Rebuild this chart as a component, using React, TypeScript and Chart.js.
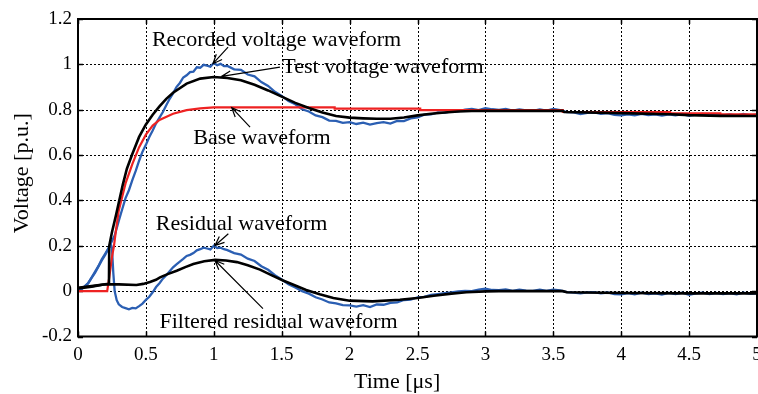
import React, { useEffect, useRef } from "react";
import { Chart, registerables } from "chart.js";

Chart.register(...registerables);

// ---------- data ----------
const xTickLabels = ["0", "0.5", "1", "1.5", "2", "2.5", "3", "3.5", "4", "4.5", "5"];
const yTickLabels = ["-0.2", "0", "0.2", "0.4", "0.6", "0.8", "1", "1.2"];
const xTitle = "Time [μs]";
const yTitle = "Voltage [p.u.]";

// Base waveform [time μs, voltage p.u.]
const baseWave: [number, number][] = [
  [0, 0], [0.215, 0], [0.23, 0.06], [0.25, 0.15], [0.265, 0.2], [0.28, 0.27], [0.3, 0.355],
  [0.35, 0.475], [0.4, 0.56], [0.45, 0.635], [0.5, 0.69], [0.55, 0.73], [0.6, 0.755],
  [0.7, 0.782], [0.8, 0.798], [0.9, 0.806], [1.0, 0.81], [1.89, 0.81], [1.89, 0.805],
  [2.52, 0.805], [2.52, 0.798], [3.57, 0.798], [3.57, 0.79], [4.36, 0.79], [4.36, 0.784],
  [4.73, 0.784], [4.73, 0.78], [5.0, 0.78],
];

// Test voltage waveform
const testWave: [number, number][] = [
  [0, 0.015], [0.1, 0.022], [0.2, 0.03], [0.228, 0.033], [0.23, 0.2], [0.25, 0.26],
  [0.28, 0.335], [0.3, 0.39], [0.33, 0.47], [0.36, 0.54], [0.4, 0.605], [0.45, 0.68],
  [0.5, 0.735], [0.55, 0.778], [0.6, 0.815], [0.65, 0.848], [0.7, 0.875], [0.8, 0.915],
  [0.9, 0.937], [1.0, 0.944], [1.1, 0.94], [1.2, 0.93], [1.3, 0.91], [1.4, 0.885], [1.5, 0.858],
  [1.6, 0.83], [1.7, 0.808], [1.8, 0.788], [1.9, 0.772], [2.0, 0.765], [2.1, 0.762],
  [2.2, 0.76], [2.3, 0.76], [2.4, 0.766], [2.5, 0.775], [2.6, 0.782], [2.7, 0.788],
  [2.8, 0.792], [2.9, 0.794], [3.0, 0.795], [3.57, 0.795], [3.58, 0.79], [4.0, 0.785],
  [4.36, 0.78], [4.5, 0.776], [4.73, 0.773], [5.0, 0.772],
];

// Recorded voltage waveform
const recordedWave: [number, number][] = [
  [0, 0.005], [0.025, 0.01], [0.05, 0.022], [0.075, 0.035], [0.1, 0.06], [0.125, 0.085],
  [0.15, 0.11], [0.175, 0.14], [0.2, 0.165], [0.225, 0.19], [0.245, 0.215], [0.27, 0.245],
  [0.3, 0.31], [0.325, 0.36], [0.35, 0.41], [0.375, 0.445], [0.4, 0.49], [0.425, 0.53],
  [0.45, 0.575], [0.475, 0.615], [0.5, 0.645], [0.525, 0.68], [0.55, 0.708], [0.575, 0.74],
  [0.6, 0.765], [0.625, 0.79], [0.65, 0.82], [0.675, 0.848], [0.7, 0.872], [0.725, 0.9],
  [0.75, 0.918], [0.775, 0.942], [0.8, 0.952], [0.825, 0.966], [0.85, 0.968], [0.875, 0.987],
  [0.9, 0.985], [0.925, 0.998], [0.95, 0.994], [0.975, 0.99], [1.0, 1.006], [1.025, 0.996],
  [1.05, 1.002], [1.075, 0.992], [1.1, 0.993], [1.15, 0.978], [1.2, 0.976], [1.25, 0.955],
  [1.3, 0.947], [1.35, 0.922], [1.4, 0.905], [1.45, 0.879], [1.5, 0.861], [1.55, 0.838],
  [1.6, 0.824], [1.65, 0.802], [1.7, 0.792], [1.75, 0.775], [1.8, 0.767], [1.85, 0.752],
  [1.9, 0.751], [1.95, 0.742], [2.0, 0.745], [2.05, 0.737], [2.1, 0.743], [2.15, 0.734],
  [2.2, 0.741], [2.25, 0.745], [2.3, 0.739], [2.35, 0.751], [2.4, 0.75], [2.45, 0.762],
  [2.5, 0.766], [2.55, 0.778], [2.6, 0.779], [2.65, 0.788], [2.7, 0.786], [2.75, 0.794],
  [2.8, 0.793], [2.85, 0.8], [2.9, 0.803], [2.95, 0.798], [3.0, 0.807], [3.05, 0.802],
  [3.1, 0.799], [3.15, 0.804], [3.2, 0.796], [3.25, 0.801], [3.3, 0.797], [3.35, 0.795],
  [3.4, 0.801], [3.45, 0.796], [3.5, 0.803], [3.55, 0.798], [3.6, 0.789], [3.65, 0.788],
  [3.7, 0.781], [3.75, 0.786], [3.8, 0.788], [3.85, 0.782], [3.9, 0.785], [3.95, 0.777],
  [4.0, 0.775], [4.05, 0.78], [4.1, 0.775], [4.15, 0.782], [4.2, 0.776], [4.25, 0.779],
  [4.3, 0.774], [4.35, 0.78], [4.4, 0.775], [4.45, 0.781], [4.5, 0.773], [4.55, 0.778],
  [4.6, 0.782], [4.65, 0.775], [4.7, 0.78], [4.75, 0.775], [4.8, 0.779], [4.85, 0.774],
  [4.9, 0.781], [4.95, 0.775], [5.0, 0.778],
];

// Residual waveform
const residualWave: [number, number][] = [
  [0, 0.0], [0.025, 0.008], [0.05, 0.02], [0.075, 0.035], [0.1, 0.058], [0.125, 0.08],
  [0.15, 0.108], [0.175, 0.135], [0.2, 0.16], [0.225, 0.188], [0.24, 0.21], [0.25, 0.19],
  [0.26, 0.08], [0.27, 0.0], [0.285, -0.04], [0.3, -0.058], [0.325, -0.07], [0.35, -0.075],
  [0.375, -0.08], [0.4, -0.074], [0.425, -0.076], [0.45, -0.066], [0.475, -0.055],
  [0.5, -0.038], [0.525, -0.025], [0.55, -0.005], [0.575, 0.018], [0.6, 0.035],
  [0.625, 0.055], [0.65, 0.07], [0.675, 0.088], [0.7, 0.105], [0.725, 0.118], [0.75, 0.13],
  [0.775, 0.142], [0.8, 0.155], [0.825, 0.16], [0.85, 0.168], [0.875, 0.18], [0.9, 0.185],
  [0.925, 0.192], [0.95, 0.188], [0.975, 0.184], [1.0, 0.2], [1.025, 0.19], [1.05, 0.192],
  [1.075, 0.185], [1.1, 0.181], [1.15, 0.168], [1.2, 0.161], [1.25, 0.143], [1.3, 0.133],
  [1.35, 0.11], [1.4, 0.094], [1.45, 0.07], [1.5, 0.051], [1.55, 0.03], [1.6, 0.016],
  [1.65, 0.0], [1.7, -0.011], [1.75, -0.027], [1.8, -0.037], [1.85, -0.05], [1.9, -0.054],
  [1.95, -0.062], [2.0, -0.063], [2.05, -0.068], [2.1, -0.062], [2.15, -0.07], [2.2, -0.059],
  [2.25, -0.06], [2.3, -0.052], [2.35, -0.05], [2.4, -0.039], [2.45, -0.037], [2.5, -0.027],
  [2.55, -0.025], [2.6, -0.017], [2.65, -0.013], [2.7, -0.009], [2.75, -0.006], [2.8, -0.001],
  [2.85, 0.001], [2.9, 0.0], [2.95, 0.007], [3.0, 0.011], [3.05, 0.005], [3.1, 0.004],
  [3.15, 0.008], [3.2, 0.001], [3.25, 0.006], [3.3, 0.002], [3.35, 0.001], [3.4, 0.006],
  [3.45, 0.001], [3.5, 0.007], [3.55, 0.003], [3.6, -0.004], [3.65, -0.007], [3.7, -0.01],
  [3.75, -0.005], [3.8, -0.004], [3.85, -0.01], [3.9, -0.006], [3.95, -0.013], [4.0, -0.014],
  [4.05, -0.009], [4.1, -0.014], [4.15, -0.007], [4.2, -0.013], [4.25, -0.01], [4.3, -0.015],
  [4.35, -0.008], [4.4, -0.013], [4.45, -0.007], [4.5, -0.016], [4.55, -0.01], [4.6, -0.007],
  [4.65, -0.013], [4.7, -0.008], [4.75, -0.013], [4.8, -0.009], [4.85, -0.014], [4.9, -0.007],
  [4.95, -0.012], [5.0, -0.01],
];

// Filtered residual waveform
const filteredWave: [number, number][] = [
  [0, 0.012], [0.1, 0.02], [0.2, 0.03], [0.3, 0.03], [0.43, 0.027], [0.48, 0.032],
  [0.53, 0.04], [0.574, 0.05], [0.604, 0.061], [0.66, 0.075], [0.727, 0.09], [0.79, 0.106],
  [0.849, 0.12], [0.93, 0.132], [1.01, 0.138], [1.09, 0.135], [1.17, 0.128], [1.25, 0.114],
  [1.34, 0.095], [1.42, 0.072], [1.51, 0.047], [1.6, 0.025], [1.68, 0.005], [1.78, -0.014],
  [1.88, -0.03], [2.0, -0.042], [2.17, -0.045], [2.37, -0.038], [2.5, -0.03], [2.62, -0.02],
  [2.75, -0.011], [2.86, -0.005], [3.0, -0.001], [3.1, 0.0], [3.57, 0.0], [3.6, -0.005],
  [4.0, -0.008], [4.5, -0.01], [5.0, -0.01],
];

// annotations: text centres and arrows in data units (μs, p.u.)
const annotationTexts = ["Recorded voltage waveform", "Test voltage waveform", "Base waveform", "Residual waveform", "Filtered residual waveform"];
const annotationAt: [number, number][] = [[1.462, 1.106], [2.246, 0.988], [1.355, 0.673], [1.205, 0.297], [1.477, -0.138]];
const arrowFrom: [number, number][] = [[1.105, 1.076], [1.487, 0.988], [1.267, 0.723], [1.107, 0.253], [1.362, -0.077]];
const arrowTo: [number, number][] = [[0.994, 1.003], [1.058, 0.947], [1.132, 0.809], [1.009, 0.201], [1.009, 0.135]];
// axis title centres (data units)
const xTitleAt = 2.35;
const yTitleAt = 0.52;

const FONT = "'Liberation Serif', 'Times New Roman', serif";

const toPts = (arr: [number, number][]) => arr.map(([x, y]) => ({ x, y }));

const framePlugin = {
  id: "frameGrid",
  beforeDatasetsDraw(chart: any) {
    const { ctx, chartArea: a, scales } = chart;
    const xs = scales.x, ys = scales.y;
    ctx.save();
    ctx.strokeStyle = "#000";
    ctx.lineWidth = 1;
    ctx.setLineDash([2, 2]);
    xs.ticks.forEach((t: any) => {
      const px = Math.round(xs.getPixelForValue(t.value)) + 0.5;
      if (px <= a.left + 1 || px >= a.right - 1) return;
      ctx.beginPath(); ctx.moveTo(px, a.top); ctx.lineTo(px, a.bottom); ctx.stroke();
    });
    ys.ticks.forEach((t: any) => {
      const py = Math.round(ys.getPixelForValue(t.value)) + 0.5;
      if (py <= a.top + 1 || py >= a.bottom - 1) return;
      ctx.beginPath(); ctx.moveTo(a.left, py); ctx.lineTo(a.right, py); ctx.stroke();
    });
    ctx.setLineDash([]);
    ctx.lineWidth = 1.5;
    const tl = 5;
    xs.ticks.forEach((t: any) => {
      const px = Math.round(xs.getPixelForValue(t.value)) + 0.5;
      ctx.beginPath(); ctx.moveTo(px, a.bottom); ctx.lineTo(px, a.bottom - tl);
      ctx.moveTo(px, a.top); ctx.lineTo(px, a.top + tl); ctx.stroke();
    });
    ys.ticks.forEach((t: any) => {
      const py = Math.round(ys.getPixelForValue(t.value)) + 0.5;
      ctx.beginPath(); ctx.moveTo(a.left, py); ctx.lineTo(a.left + tl, py);
      ctx.moveTo(a.right, py); ctx.lineTo(a.right - tl, py); ctx.stroke();
    });
    ctx.restore();
  },
  afterDatasetsDraw(chart: any) {
    const { ctx, chartArea: a, scales } = chart;
    const xs = scales.x, ys = scales.y;
    ctx.save();
    // frame
    ctx.strokeStyle = "#000";
    ctx.lineWidth = 2;
    ctx.strokeRect(a.left, a.top, a.right - a.left, a.bottom - a.top);
    // arrows
    ctx.lineWidth = 1.2;
    arrowFrom.forEach((f, i) => {
      const x1 = xs.getPixelForValue(f[0]), y1 = ys.getPixelForValue(f[1]);
      const x2 = xs.getPixelForValue(arrowTo[i][0]), y2 = ys.getPixelForValue(arrowTo[i][1]);
      const ang = Math.atan2(y2 - y1, x2 - x1);
      const hl = 10, ha = 0.4;
      ctx.beginPath();
      ctx.moveTo(x1, y1); ctx.lineTo(x2, y2);
      ctx.moveTo(x2 - hl * Math.cos(ang - ha), y2 - hl * Math.sin(ang - ha));
      ctx.lineTo(x2, y2);
      ctx.lineTo(x2 - hl * Math.cos(ang + ha), y2 - hl * Math.sin(ang + ha));
      ctx.stroke();
    });
    // texts
    ctx.fillStyle = "#000";
    ctx.font = `22px ${FONT}`;
    ctx.textAlign = "center";
    ctx.textBaseline = "middle";
    annotationTexts.forEach((txt, i) => {
      ctx.fillText(txt, xs.getPixelForValue(annotationAt[i][0]), ys.getPixelForValue(annotationAt[i][1]));
    });
    // axis titles
    ctx.fillText(xTitle, xs.getPixelForValue(xTitleAt), chart.height - 12);
    ctx.translate(a.left - 56, ys.getPixelForValue(yTitleAt));
    ctx.rotate(-Math.PI / 2);
    ctx.fillText(yTitle, 0, 0);
    ctx.restore();
  },
};

export default function App() {
  const ref = useRef<HTMLCanvasElement>(null);
  useEffect(() => {
    if (!ref.current) return;
    const chart = new Chart(ref.current, {
      type: "line",
      data: {
        datasets: [
          { label: "Test voltage waveform", data: toPts(testWave), borderColor: "#000000", borderWidth: 2.6 },
          { label: "Filtered residual waveform", data: toPts(filteredWave), borderColor: "#000000", borderWidth: 2.6 },
          { label: "Base waveform", data: toPts(baseWave), borderColor: "#ee2222", borderWidth: 2.2 },
          { label: "Recorded voltage waveform", data: toPts(recordedWave), borderColor: "#2b5fb3", borderWidth: 2.3 },
          { label: "Residual waveform", data: toPts(residualWave), borderColor: "#2b5fb3", borderWidth: 2.3 },
        ].map((d) => ({ ...d, pointRadius: 0, fill: false, tension: 0 })),
      },
      options: {
        animation: false,
        responsive: false,
        devicePixelRatio: 1,
        layout: { padding: { top: 19, right: 1, left: 0, bottom: 0 } },
        plugins: { legend: { display: false }, tooltip: { enabled: false } },
        scales: {
          x: {
            type: "linear",
            min: 0,
            max: 5,
            afterFit: (s: any) => { s.height = 57.5; s.paddingLeft = 0; s.paddingRight = 0; },
            ticks: {
              stepSize: 0.5,
              callback: (_v: any, i: number) => xTickLabels[i],
              color: "#000",
              font: { family: FONT, size: 19 },
              padding: 7,
              maxRotation: 0,
              autoSkip: false,
            },
            grid: { display: false, drawTicks: false },
            border: { display: false },
          },
          y: {
            type: "linear",
            min: -0.2,
            max: 1.2,
            afterFit: (s: any) => { s.width = 78; s.paddingTop = 0; s.paddingBottom = 0; },
            ticks: {
              stepSize: 0.2,
              callback: (_v: any, i: number) => yTickLabels[i],
              color: "#000",
              font: { family: FONT, size: 19 },
              padding: 6,
              autoSkip: false,
            },
            grid: { display: false, drawTicks: false },
            border: { display: false },
          },
        },
      },
      plugins: [framePlugin],
    } as any);
    return () => chart.destroy();
  }, []);
  return (
    <div style={{ position: "fixed", left: 0, top: 0, width: 758, height: 394, background: "#fff" }}>
      <canvas ref={ref} width={758} height={394} style={{ width: 758, height: 394 }} />
    </div>
  );
}
